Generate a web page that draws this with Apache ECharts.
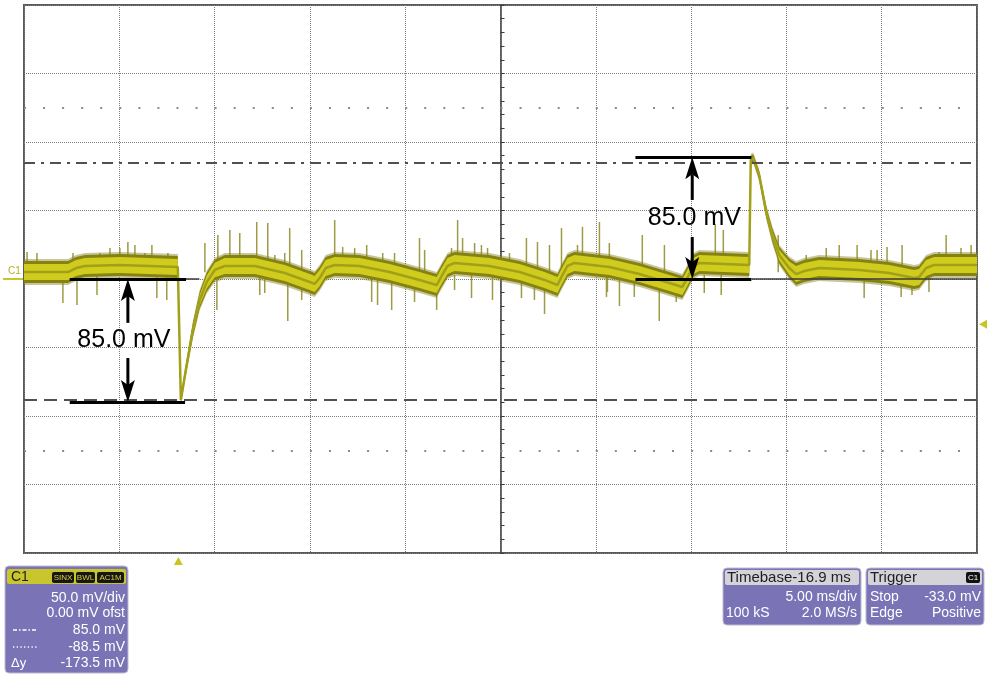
<!DOCTYPE html>
<html>
<head>
<meta charset="utf-8">
<title>C1 load transient</title>
<script src="https://cdn.jsdelivr.net/npm/echarts@6.0.0/dist/echarts.min.js"></script>
<style>
    html, body { margin: 0; padding: 0; background: #fff; }
    #scope { width: 987px; height: 677px; }
</style>
</head>
<body>
<div id="scope"></div>
<script>
// time in ms from screen centre, voltage in mV (50 mV/div, 5 ms/div)
const traceTime = [-25.0, -22.69, -22.27, -21.80, -19.97, -16.93, -16.77, -16.51, -16.14, -15.78,
    -15.41, -14.99, -14.47, -12.89, -11.32, -10.01, -9.75, -9.49, -9.17, -8.70,
    -7.39, -5.82, -4.25, -3.35, -3.09, -2.78, -2.41, -0.58, 1.0, 2.31,
    2.99, 3.20, 3.51, 3.88, 5.71, 7.29, 8.86, 9.54, 9.80, 10.12,
    10.43, 13.05, 13.13, 13.26, 13.57, 13.94, 14.26, 14.62, 15.15, 15.51,
    15.93, 16.72, 18.82, 20.39, 21.70, 21.96, 22.33, 22.75, 25.0];
const traceMid = [5.1, 5.1, 8.0, 9.5, 10.2, 8.8, -88.3, -66.4, -37.2, -15.3,
    -2.2, 6.6, 9.5, 9.5, 4.4, -2.2, -3.6, 0.7, 8.0, 10.2,
    9.5, 5.1, -0.7, -4.4, 2.2, 9.5, 11.7, 9.5, 5.1, -0.7,
    -4.4, 1.5, 9.5, 11.7, 8.8, 3.6, -2.9, -5.8, 0.7, 9.5,
    11.7, 10.2, 86.9, 88.3, 75.9, 48.9, 32.1, 17.5, 8.0, 3.6,
    5.8, 8.0, 6.6, 4.4, 0.7, 1.5, 8.0, 10.2, 10.2];
const traceHalf = [8, 8, 8, 8, 8, 8, 2, 3.5, 5, 6,
    7, 7.5, 8, 8, 8, 8, 8, 8, 8, 8,
    8, 8, 8, 8, 8, 8, 8, 8, 8, 8,
    8, 8, 8, 8, 8, 8, 8, 8, 8, 8,
    8, 8, 3, 2.5, 3, 4, 5, 6, 7, 8,
    8, 8, 8, 8, 8, 8, 8, 8, 8];

// noise spikes: [time, tip level]
const spikesUp = [[-24.84, 19.7], [-24.32, 19], [-22.43, 19], [-21.02, 19], [-20.49, 22.6], [-19.97, 22.6],
    [-19.55, 27], [-19.18, 24.8], [-18.66, 19], [-18.29, 24.8], [-17.45, 19], [-15.51, 26.3],
    [-14.83, 32.1], [-14.2, 35.8], [-13.68, 33.6], [-12.79, 41.6], [-12.21, 40.9], [-11.84, 17.5],
    [-11.32, 19], [-11.06, 37.2], [-10.43, 21.2], [-8.7, 43.1], [-8.28, 23.4], [-7.65, 22.6],
    [-7.02, 24.8], [-6.18, 19], [-5.56, 19], [-4.25, 29.9], [-3.98, 21.2], [-2.57, 22.6],
    [-2.25, 43.1], [-1.99, 29.9], [-1.36, 26.3], [-1.0, 24.8], [-0.68, 22.6], [0.47, 19],
    [1.36, 29.9], [1.94, 27], [2.57, 24.8], [3.2, 37.2], [4.04, 24.8], [4.3, 38], [5.19, 41.6],
    [5.71, 26.3], [7.44, 32.1], [8.6, 24.8], [11.27, 40.1], [11.69, 35.8], [14.57, 32.1],
    [16.04, 17.5], [17.09, 22.6], [17.77, 24.8], [18.71, 24.8], [19.44, 21.2], [19.76, 21.2],
    [20.28, 23.4], [21.07, 24.8], [23.01, 19.7], [23.38, 32.1], [24.16, 22.6], [24.69, 24.8]];
const spikesDown = [[-22.96, -17.5], [-22.22, -19], [-21.17, -11.7], [-18.03, -13.9], [-17.51, -15.3],
    [-14.88, -22.6], [-12.63, -11.7], [-12.37, -10.2], [-11.16, -30.7], [-10.43, -15.3],
    [-6.76, -16.8], [-6.45, -19], [-5.71, -22.6], [-4.51, -16.8], [-3.35, -22.6], [-2.41, -8],
    [-1.52, -13.9], [-0.42, -15.3], [1.1, -13.9], [1.78, -15.3], [2.31, -25.5], [5.56, -13.1],
    [5.61, -9.5], [6.24, -19.7], [7.02, -13.1], [8.33, -30.7], [9.22, -16.8], [10.69, -10.2],
    [11.58, -11.7], [19.08, -13.9], [21.02, -13.1], [21.59, -11.7], [22.48, -9.5]];

const refLevels = [85.0, -88.5];
const dotRows = [125, -125];
const triggerTime = -16.9;
const triggerLevel = -33.0;

// measurement cursors: [from time, to time, level]
const cursorThick = [[-22.6, -16.5, 0], [-22.6, -16.55, -89.8], [7.08, 13.16, 88.8], [7.08, 13.16, 0]];
const cursorThin = [[-16.5, -15.8, 0], [13.16, 25, 0]];
// arrows: [time, tail, tip]
const arrows = [[-19.55, -32, 0], [-19.55, -57.7, -89.8], [10.06, 57.7, 88.8], [10.06, 30.7, 0]];
const deltaLabels = [[-19.76, -44.5], [10.17, 44.5]];
const deltaText = ['85.0 mV', '85.0 mV'];

const fontFamily = '"Liberation Sans", Arial, sans-serif';

function drawBand(params, api) {
    if (params.dataIndex !== 0) return null;
    let halo = [[], []], up = [], lo = [], inUp = [], inLo = [];
    for (let i = 0; i < traceTime.length; i++) {
        let a = api.coord([traceTime[i], traceMid[i] + traceHalf[i]]);
        let b = api.coord([traceTime[i], traceMid[i] - traceHalf[i]]);
        up.push(a);
        lo.push(b);
        halo[0].push([a[0], a[1] - 2]);
        halo[1].push([b[0], b[1] + 2]);
        let inset = Math.min(3, (b[1] - a[1]) / 2 - 0.8);
        inUp.push([a[0], a[1] + inset]);
        inLo.push([b[0], b[1] - inset]);
    }
    return {
        type: 'group',
        children: [
            { type: 'polygon', shape: { points: halo[0].concat(halo[1].reverse()) }, style: { fill: 'rgba(130,128,30,0.45)' } },
            { type: 'polygon', shape: { points: up.concat(lo.reverse()) }, style: { fill: '#858212' } },
            { type: 'polygon', shape: { points: inUp.concat(inLo.reverse()) }, style: { fill: '#cfcc1e' } }
        ]
    };
}

function drawSpike(params, api) {
    let t = api.value(0), v = api.value(1);
    let tip = api.coord([t, v]);
    let base = api.coord([t, v > 0 ? 5 : 3]);
    return {
        type: 'line',
        shape: { x1: tip[0], y1: tip[1], x2: base[0], y2: base[1] },
        style: { stroke: '#9d9b44', lineWidth: 1.5 }
    };
}

function drawArrow(params, api) {
    let tail = api.coord([api.value(0), api.value(1)]);
    let tip = api.coord([api.value(0), api.value(2)]);
    let dir = tip[1] > tail[1] ? 1 : -1;
    let baseY = tip[1] - dir * 22;
    return {
        type: 'group',
        children: [
            { type: 'line', shape: { x1: tail[0], y1: tail[1], x2: tip[0], y2: baseY + dir * 5 },
              style: { stroke: '#000', lineWidth: 3 } },
            { type: 'polygon', shape: { points: [[tip[0], tip[1]], [tip[0] - 7, baseY], [tip[0], baseY + dir * 5], [tip[0] + 7, baseY]] },
              style: { fill: '#000' } }
        ]
    };
}

function drawLabel(params, api) {
    let p = api.coord([api.value(0), api.value(1)]);
    return {
        type: 'text', x: p[0], y: p[1],
        style: { text: deltaText[params.dataIndex], fill: '#000', font: '25px ' + fontFamily, align: 'center', verticalAlign: 'middle' }
    };
}

let gridSplit = { show: true, lineStyle: { color: '#7c7c7c', type: [1, 1], width: 1 } };

let markLines = [];
refLevels.forEach(function (v, i) {
    markLines.push({ yAxis: v, lineStyle: { color: '#505050', width: 2, type: i === 0 ? [11, 6, 3, 6] : [13, 7] } });
});
dotRows.forEach(function (v) {
    markLines.push({ yAxis: v, lineStyle: { color: '#8a8a8a', width: 2, type: [2, 17.06] } });
});
cursorThick.forEach(function (c) {
    markLines.push([{ coord: [c[0], c[2]], lineStyle: { color: '#000', width: 3, type: 'solid' } }, { coord: [c[1], c[2]] }]);
});
cursorThin.forEach(function (c) {
    markLines.push([{ coord: [c[0], c[2]], lineStyle: { color: '#3a3a3a', width: 1.5, type: 'solid' } }, { coord: [c[1], c[2]] }]);
});

let scopeElem = document.getElementById('scope');
let scope = echarts.init(scopeElem);
scope.setOption({
    animation: false,
    backgroundColor: '#fff',
    grid: { left: 24, right: 10, top: 5, bottom: 124, show: true, borderColor: '#5a5a5a', borderWidth: 2, backgroundColor: '#fff' },
    xAxis: {
        type: 'value', min: -25, max: 25, interval: 5,
        axisLine: { show: false }, axisTick: { show: false }, axisLabel: { show: false },
        splitLine: gridSplit
    },
    yAxis: {
        type: 'value', min: -200, max: 200, interval: 50,
        axisLine: { show: true, onZero: true, lineStyle: { color: '#3c3c3c', width: 1.5 } },
        axisTick: { show: true, inside: true, length: 4, lineStyle: { color: '#3c3c3c' } },
        minorTick: { show: true, splitNumber: 5, length: 4, lineStyle: { color: '#3c3c3c' } },
        axisLabel: { show: false },
        splitLine: gridSplit
    },
    series: [{
        type: 'line',
        data: [],
        silent: true,
        z: 1,
        markLine: { silent: true, symbol: 'none', label: { show: false }, data: markLines }
    }, {
        type: 'custom',
        renderItem: drawSpike,
        data: spikesUp.concat(spikesDown),
        silent: true,
        z: 2
    }, {
        type: 'custom',
        renderItem: drawBand,
        data: traceTime.map(function (t, i) { return [t, traceMid[i]]; }),
        silent: true,
        z: 3
    }, {
        type: 'line',
        data: traceTime.map(function (t, i) { return [t, traceMid[i]]; }),
        showSymbol: false,
        silent: true,
        lineStyle: { color: '#a29f18', width: 2.5 },
        z: 4
    }, {
        type: 'custom',
        renderItem: drawArrow,
        data: arrows,
        silent: true,
        z: 6
    }, {
        type: 'custom',
        renderItem: drawLabel,
        data: deltaLabels,
        silent: true,
        z: 6
    }]
});

// markers and readout panels around the graticule
let trigX = scope.convertToPixel({ xAxisIndex: 0 }, triggerTime);
let levelY = scope.convertToPixel({ yAxisIndex: 0 }, triggerLevel);
let gndY = scope.convertToPixel({ yAxisIndex: 0 }, 0);

function panel(x, y, w, h) {
    return { type: 'rect', shape: { x: x, y: y, width: w, height: h, r: 4 }, style: { fill: '#7a73b5', stroke: '#bdbbd0', lineWidth: 1 } };
}
function header(x, y, w, color) {
    return { type: 'rect', shape: { x: x, y: y, width: w, height: 15, r: 2 }, style: { fill: color } };
}
function txt(text, x, y, align, size, color) {
    return { type: 'text', x: x, y: y, style: { text: text, fill: color || '#fff', font: (size || 14) + 'px ' + fontFamily, align: align, verticalAlign: 'middle' } };
}
function badge(text, x, w, color) {
    return [
        { type: 'rect', shape: { x: x, y: 572, width: w, height: 11, r: 2 }, style: { fill: '#161616' } },
        txt(text, x + w / 2, 577.5, 'center', 8, color)
    ];
}
function legendLine(y, dash) {
    return { type: 'line', shape: { x1: 13, y1: y, x2: 37, y2: y }, style: { stroke: '#fff', lineWidth: 1.3, lineDash: dash } };
}

let overlay = [
    { type: 'polygon', shape: { points: [[trigX, 557], [trigX - 4.5, 565], [trigX + 4.5, 565]] }, style: { fill: '#c9c524' } },
    { type: 'polygon', shape: { points: [[979, levelY], [987, levelY - 4.5], [987, levelY + 4.5]] }, style: { fill: '#c9c524' } },
    txt('C1', 8, gndY - 8, 'left', 10, '#b3b01c'),
    { type: 'line', shape: { x1: 3, y1: gndY, x2: 23, y2: gndY }, style: { stroke: '#c9c52c', lineWidth: 2 } },

    panel(5, 566, 123, 107),
    header(7, 569, 119, '#c9c52c'),
    txt('C1', 11, 577, 'left', 14, '#1e1e1e'),
    txt('50.0 mV/div', 125, 598, 'right'),
    txt('0.00 mV ofst', 125, 613, 'right'),
    legendLine(630, [4, 2, 1.5, 2]),
    txt('85.0 mV', 125, 630, 'right'),
    legendLine(647, [1.3, 2.4]),
    txt('-88.5 mV', 125, 647, 'right'),
    txt('Δy', 11, 663, 'left', 13),
    txt('-173.5 mV', 125, 663, 'right'),

    panel(723, 568, 138, 57),
    header(725, 570, 134, '#d3d3d8'),
    txt('Timebase-16.9 ms', 727, 578, 'left', 15, '#1e1e1e'),
    txt('5.00 ms/div', 857, 597, 'right'),
    txt('100 kS', 726, 613, 'left'),
    txt('2.0 MS/s', 857, 613, 'right'),

    panel(866, 568, 118, 57),
    header(868, 570, 114, '#d3d3d8'),
    txt('Trigger', 870, 578, 'left', 15, '#1e1e1e'),
    { type: 'rect', shape: { x: 966, y: 572, width: 14, height: 11, r: 2 }, style: { fill: '#111' } },
    txt('C1', 973, 577.5, 'center', 8, '#fff'),
    txt('Stop', 870, 597, 'left'),
    txt('-33.0 mV', 981, 597, 'right'),
    txt('Edge', 870, 613, 'left'),
    txt('Positive', 981, 613, 'right')
].concat(badge('SINX', 52, 22, '#d6d23a'), badge('BWL', 76, 19, '#d6d23a'), badge('AC1M', 97, 27, '#d6d23a'));

scope.setOption({ graphic: overlay });

window.addEventListener('resize', function () {
    setTimeout(function () {
        scope.resize();
    }, 500);
});
</script>
</body>
</html>
